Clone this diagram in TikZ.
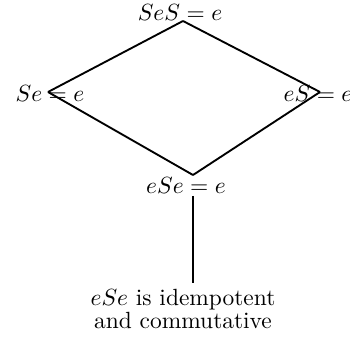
\documentclass[tikz,border=0pt]{standalone}
\usepackage{amsmath,amssymb}
\usetikzlibrary{positioning}
\begin{document}
\begin{tikzpicture}[x=0.015cm, y=-0.015cm, edge/.style={line width=0.8pt},
  lbl/.style={inner sep=1pt}]
\useasboundingbox (0,0) rectangle (350,342);
% corners of the lattice
\coordinate (top) at (183,21);
\coordinate (lft) at (48,92);
\coordinate (rgt) at (320,92);
\coordinate (bot) at (193,175);
\coordinate (foot) at (193,283);
% labels
\node[lbl] (SeS) at (180,12) {$SeS = e$};
\node[lbl] (Se) at (50,93) {$Se = e$};
\node[lbl] (eS) at (318,93) {$eS = e$};
\node[lbl] (eSe) at (186,185) {$eSe = e$};
\node[lbl, align=center, font=\fontsize{10}{8}\selectfont] (idem) at (183,309)
  {$eSe$ is idempotent\\and commutative};
% edges
\draw[edge] (top) -- (lft);
\draw[edge] (top) -- (rgt);
\draw[edge] (lft) -- (bot);
\draw[edge] (rgt) -- (bot);
\draw[edge] (bot |- eSe.south) -- (foot); % down to the note
\end{tikzpicture}
\end{document}
